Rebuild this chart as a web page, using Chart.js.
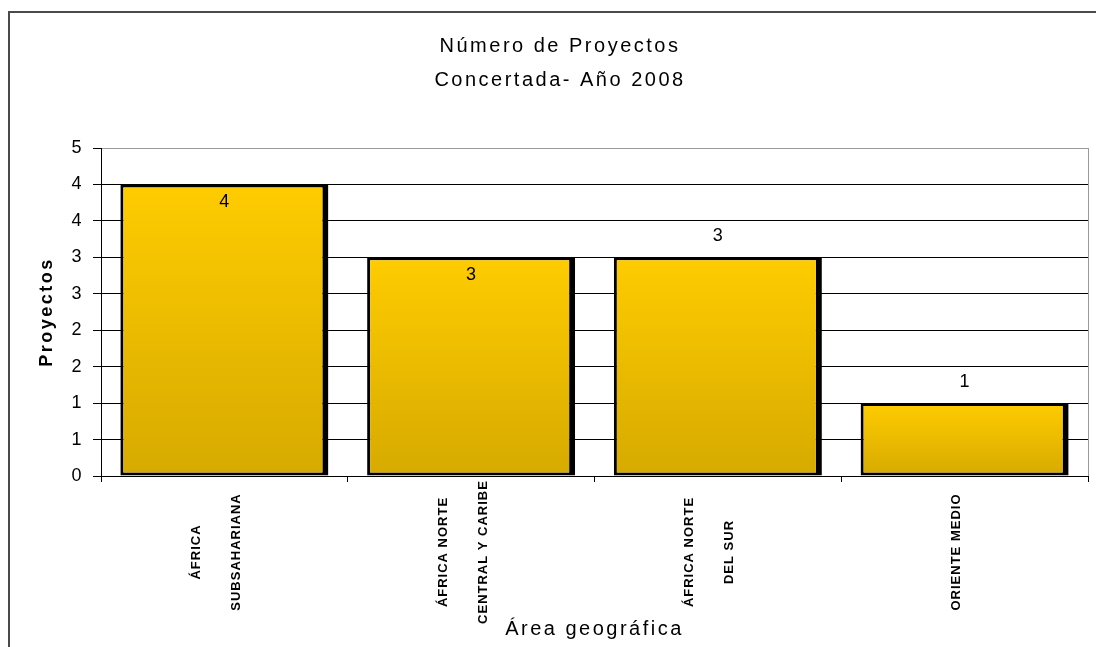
<!DOCTYPE html>
<html><head><meta charset="utf-8">
<script src="https://cdn.jsdelivr.net/npm/chart.js@4.4.1/dist/chart.umd.min.js"></script>
<style>
html,body{margin:0;padding:0;background:#fff;overflow:hidden;width:1096px;height:647px;}
#frame{position:absolute;left:8px;top:11px;width:1200px;height:800px;border-top:2px solid #4a4a4a;border-left:2px solid #4a4a4a;}
#wrap{position:absolute;left:0;top:0;width:1152px;height:647px;}
</style></head><body>
<div id="frame"></div>
<div id="wrap"><canvas id="c"></canvas></div>
<script>
const categories = ['ÁFRICA SUBSAHARIANA', 'ÁFRICA NORTE CENTRAL Y CARIBE', 'ÁFRICA NORTE DEL SUR', 'ORIENTE MEDIO'];
const categoryLabelLines = [['ÁFRICA', 'SUBSAHARIANA'], ['ÁFRICA NORTE', 'CENTRAL Y CARIBE'], ['ÁFRICA NORTE', 'DEL SUR'], ['ORIENTE MEDIO']];
const projectCounts = [4, 3, 3, 1];
const valueLabels = ['4', '3', '3', '1'];
const valueLabelPlacement = ['inside', 'inside', 'above', 'above'];
const yTickLabels = ['0', '1', '1', '2', '2', '3', '3', '4', '4', '5'];
const titleLines = ['Número de Proyectos', 'Concertada- Año 2008'];
const xAxisTitle = 'Área geográfica';
const yAxisTitle = 'Proyectos';

const FAMILY = '"Liberation Sans", Arial, sans-serif';
Chart.defaults.font.family = FAMILY;
Chart.defaults.color = '#000';

const spacingPlugin = {
  id: 'spacing',
  beforeDraw(chart) { chart.ctx.letterSpacing = '2.5px'; }
};

const plotBorderPlugin = {
  id: 'plotBorder',
  beforeDatasetsDraw(chart) {
    const {ctx, chartArea} = chart;
    ctx.save();
    ctx.strokeStyle = '#9a9a9a';
    ctx.lineWidth = 1;
    ctx.beginPath();
    ctx.moveTo(chartArea.right + 0.5, chartArea.top);
    ctx.lineTo(chartArea.right + 0.5, chartArea.bottom);
    ctx.stroke();
    ctx.restore();
  }
};

const valueLabelPlugin = {
  id: 'valueLabels',
  afterDatasetsDraw(chart) {
    const {ctx} = chart;
    const meta = chart.getDatasetMeta(0);
    ctx.save();
    ctx.letterSpacing = '0px';
    ctx.font = '18px ' + FAMILY;
    ctx.fillStyle = '#000';
    ctx.textAlign = 'center';
    ctx.textBaseline = 'middle';
    meta.data.forEach((bar, i) => {
      const y = valueLabelPlacement[i] === 'inside' ? bar.y + 18 : bar.y - 21;
      ctx.fillText(valueLabels[i], bar.x, y);
    });
    ctx.restore();
  }
};

const xLabelPlugin = {
  id: 'xLabels',
  afterDraw(chart) {
    const {ctx} = chart;
    const xs = chart.scales.x;
    ctx.save();
    ctx.letterSpacing = '1px';
    ctx.font = 'bold 13px ' + FAMILY;
    ctx.fillStyle = '#000';
    ctx.textAlign = 'center';
    ctx.textBaseline = 'middle';
    categoryLabelLines.forEach((lines, i) => {
      const cx = xs.getPixelForValue(i) - 8;
      const n = lines.length;
      lines.forEach((t, j) => {
        const x = cx + (j - (n - 1) / 2) * 40;
        ctx.save();
        ctx.translate(x, 552);
        ctx.rotate(-Math.PI / 2);
        ctx.fillText(t, 0, 0);
        ctx.restore();
      });
    });
    ctx.restore();
  }
};

new Chart(document.getElementById('c'), {
  type: 'bar',
  data: {
    labels: categories,
    datasets: [{
      data: projectCounts,
      backgroundColor: (c) => {
        const chart = c.chart;
        const {ctx, chartArea, scales} = chart;
        if (!chartArea || c.type !== 'data') return '#FFCC00';
        const top = scales.y.getPixelForValue(c.raw);
        const bottom = scales.y.getPixelForValue(0);
        const g = ctx.createLinearGradient(0, top, 0, bottom);
        g.addColorStop(0, '#FFCC00');
        g.addColorStop(1, '#D6AA00');
        return g;
      },
      borderColor: '#000',
      borderWidth: {top: 3, left: 3, bottom: 3, right: 6},
      borderSkipped: false,
      barPercentage: 0.843,
      categoryPercentage: 1.0
    }]
  },
  options: {
    responsive: true,
    maintainAspectRatio: false,
    animation: false,
    devicePixelRatio: 1,
    layout: {padding: {left: 0, right: 32, top: 0, bottom: 0}},
    plugins: {
      legend: {display: false},
      tooltip: {enabled: false},
      title: {
        display: true,
        text: titleLines,
        color: '#000',
        font: {size: 20, weight: 'normal', lineHeight: 1.7},
        padding: {top: 29, bottom: 51}
      }
    },
    scales: {
      x: {
        afterFit(s) { s.height = 171; },
        ticks: {display: false},
        grid: {offset: true, drawOnChartArea: false, tickLength: 6, color: '#000'},
        border: {color: '#000', width: 1},
        title: {display: true, text: xAxisTitle, color: '#000', font: {size: 20}, padding: {top: 0, bottom: 6}}
      },
      y: {
        min: 0,
        max: 4.5,
        afterFit(s) { s.width = 101; },
        ticks: {
          stepSize: 0.5,
          padding: 9,
          color: '#000',
          font: {size: 18},
          callback: (v, i) => yTickLabels[i]
        },
        grid: {
          color: (c) => (c.tick && c.tick.value >= 4.49) ? '#9a9a9a' : '#000',
          tickColor: '#000',
          tickLength: 8,
          lineWidth: 1
        },
        border: {color: '#000', width: 1},
        title: {display: true, text: yAxisTitle, color: '#000', font: {size: 18, weight: 'bold'}, padding: {top: 36, bottom: 0}}
      },
      ySpace: {
        position: 'right',
        display: true,
        afterFit(s) { s.width = 32; },
        ticks: {display: false},
        grid: {display: false},
        border: {display: false}
      }
    }
  },
  plugins: [spacingPlugin, plotBorderPlugin, valueLabelPlugin, xLabelPlugin]
});
</script>
</body></html>
